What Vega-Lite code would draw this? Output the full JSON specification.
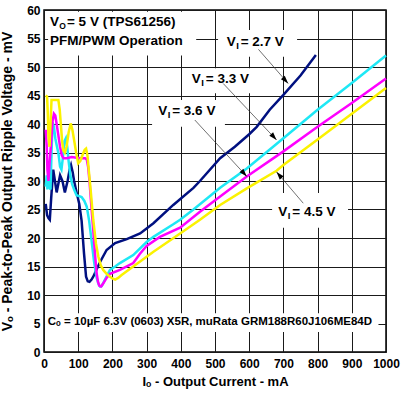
{
  "$schema": "https://vega.github.io/schema/vega-lite/v6.json",
  "width": 342,
  "height": 342,
  "autosize": "none",
  "padding": {"left": 44, "top": 10, "right": 19, "bottom": 46},
  "background": "white",
  "config": {
    "view": {"stroke": "black", "strokeWidth": 1.5},
    "font": "Liberation Sans",
    "axis": {
      "grid": true, "gridColor": "#1a1a1a", "gridWidth": 1, "gridOpacity": 1,
      "ticks": false, "domain": false,
      "labelFont": "Liberation Sans", "labelFontWeight": "bold", "labelFontSize": 12, "labelColor": "black",
      "labelFlush": false, "labelOverlap": false,
      "titleFont": "Liberation Sans", "titleFontWeight": "bold", "titleColor": "black"
    }
  },
  "datasets": {
    "curves": [
      {"s":"2.7","I":5,"V":26},{"s":"2.7","I":9,"V":24},{"s":"2.7","I":13,"V":23.5},{"s":"2.7","I":17,"V":23.2},{"s":"2.7","I":21,"V":27},{"s":"2.7","I":27,"V":32},{"s":"2.7","I":32,"V":30},{"s":"2.7","I":37,"V":28},{"s":"2.7","I":42,"V":29.5},{"s":"2.7","I":47,"V":31},{"s":"2.7","I":54,"V":30},{"s":"2.7","I":61,"V":28},{"s":"2.7","I":69,"V":30},{"s":"2.7","I":75,"V":32},{"s":"2.7","I":79,"V":32.8},{"s":"2.7","I":84,"V":31.5},{"s":"2.7","I":88,"V":30},{"s":"2.7","I":96,"V":27.8},{"s":"2.7","I":103,"V":26},{"s":"2.7","I":110,"V":23},{"s":"2.7","I":117,"V":17.3},{"s":"2.7","I":123,"V":13.2},{"s":"2.7","I":128,"V":12.4},{"s":"2.7","I":133,"V":12.3},{"s":"2.7","I":139,"V":12.7},{"s":"2.7","I":144,"V":13.2},{"s":"2.7","I":154,"V":14.5},{"s":"2.7","I":164,"V":15.8},{"s":"2.7","I":183,"V":17.9},{"s":"2.7","I":208,"V":19.1},{"s":"2.7","I":242,"V":19.8},{"s":"2.7","I":281,"V":20.8},{"s":"2.7","I":320,"V":22.6},{"s":"2.7","I":378,"V":25.8},{"s":"2.7","I":437,"V":28.8},{"s":"2.7","I":456,"V":30},{"s":"2.7","I":515,"V":34},{"s":"2.7","I":558,"V":36},{"s":"2.7","I":600,"V":38.2},{"s":"2.7","I":622,"V":39.5},{"s":"2.7","I":660,"V":42.5},{"s":"2.7","I":700,"V":45.1},{"s":"2.7","I":750,"V":48.5},{"s":"2.7","I":795,"V":52.1},
      {"s":"3.3","I":5,"V":29},{"s":"3.3","I":8,"V":31},{"s":"3.3","I":10,"V":28.5},{"s":"3.3","I":13,"V":32},{"s":"3.3","I":16,"V":29},{"s":"3.3","I":19,"V":28.5},{"s":"3.3","I":22,"V":35},{"s":"3.3","I":25,"V":40.3},{"s":"3.3","I":29,"V":39.5},{"s":"3.3","I":33,"V":37.5},{"s":"3.3","I":38,"V":36},{"s":"3.3","I":42,"V":34.9},{"s":"3.3","I":47,"V":32.5},{"s":"3.3","I":51,"V":32},{"s":"3.3","I":55,"V":34},{"s":"3.3","I":60,"V":37},{"s":"3.3","I":64,"V":37.5},{"s":"3.3","I":68,"V":36},{"s":"3.3","I":72,"V":33.5},{"s":"3.3","I":77,"V":31},{"s":"3.3","I":82,"V":29.5},{"s":"3.3","I":88,"V":28.5},{"s":"3.3","I":95,"V":27.5},{"s":"3.3","I":110,"V":27.2},{"s":"3.3","I":118,"V":26.5},{"s":"3.3","I":125,"V":25.5},{"s":"3.3","I":132,"V":23},{"s":"3.3","I":139,"V":19.6},{"s":"3.3","I":146,"V":16},{"s":"3.3","I":154,"V":13},{"s":"3.3","I":160,"V":11.8},{"s":"3.3","I":164,"V":11.5},{"s":"3.3","I":169,"V":11.6},{"s":"3.3","I":175,"V":12.3},{"s":"3.3","I":185,"V":13.5},{"s":"3.3","I":193,"V":14.4},{"s":"3.3","I":208,"V":15},{"s":"3.3","I":222,"V":15.6},{"s":"3.3","I":261,"V":17},{"s":"3.3","I":300,"V":19.3},{"s":"3.3","I":320,"V":20.2},{"s":"3.3","I":378,"V":22.4},{"s":"3.3","I":398,"V":23.2},{"s":"3.3","I":437,"V":25},{"s":"3.3","I":515,"V":28.8},{"s":"3.3","I":593,"V":32.2},{"s":"3.3","I":700,"V":37.5},{"s":"3.3","I":800,"V":42.5},{"s":"3.3","I":900,"V":47.2},{"s":"3.3","I":1000,"V":52},
      {"s":"3.6","I":5,"V":39},{"s":"3.6","I":8,"V":36},{"s":"3.6","I":10,"V":32},{"s":"3.6","I":13,"V":30},{"s":"3.6","I":16,"V":33},{"s":"3.6","I":20,"V":36},{"s":"3.6","I":25,"V":40.5},{"s":"3.6","I":29,"V":41.8},{"s":"3.6","I":33,"V":41.5},{"s":"3.6","I":37,"V":40},{"s":"3.6","I":42,"V":38},{"s":"3.6","I":47,"V":36},{"s":"3.6","I":52,"V":34.5},{"s":"3.6","I":57,"V":34},{"s":"3.6","I":66,"V":34},{"s":"3.6","I":81,"V":34.2},{"s":"3.6","I":105,"V":34},{"s":"3.6","I":120,"V":34},{"s":"3.6","I":125,"V":33.8},{"s":"3.6","I":129,"V":32.5},{"s":"3.6","I":133,"V":30},{"s":"3.6","I":138,"V":26},{"s":"3.6","I":144,"V":21.4},{"s":"3.6","I":150,"V":16.5},{"s":"3.6","I":154,"V":13.8},{"s":"3.6","I":158,"V":12.3},{"s":"3.6","I":162,"V":11.6},{"s":"3.6","I":167,"V":11.5},{"s":"3.6","I":173,"V":12},{"s":"3.6","I":183,"V":13},{"s":"3.6","I":193,"V":13.7},{"s":"3.6","I":222,"V":14.4},{"s":"3.6","I":261,"V":15.6},{"s":"3.6","I":280,"V":17.2},{"s":"3.6","I":300,"V":18.6},{"s":"3.6","I":339,"V":20.2},{"s":"3.6","I":398,"V":21.8},{"s":"3.6","I":456,"V":24.6},{"s":"3.6","I":515,"V":27.3},{"s":"3.6","I":593,"V":30.8},{"s":"3.6","I":700,"V":35.2},{"s":"3.6","I":800,"V":39.5},{"s":"3.6","I":900,"V":43.7},{"s":"3.6","I":1000,"V":48},
      {"s":"4.5","I":5,"V":45},{"s":"4.5","I":9,"V":44.8},{"s":"4.5","I":11,"V":42},{"s":"4.5","I":13,"V":38},{"s":"4.5","I":16,"V":36},{"s":"4.5","I":19,"V":40},{"s":"4.5","I":22,"V":44.2},{"s":"4.5","I":30,"V":44.2},{"s":"4.5","I":42,"V":44.2},{"s":"4.5","I":46,"V":42.5},{"s":"4.5","I":49,"V":40.1},{"s":"4.5","I":53,"V":37},{"s":"4.5","I":56.5,"V":35.4},{"s":"4.5","I":61,"V":35},{"s":"4.5","I":66,"V":36},{"s":"4.5","I":72,"V":38.5},{"s":"4.5","I":78,"V":40.1},{"s":"4.5","I":83,"V":39},{"s":"4.5","I":88,"V":37.2},{"s":"4.5","I":94,"V":35},{"s":"4.5","I":100,"V":33.1},{"s":"4.5","I":106,"V":33.5},{"s":"4.5","I":113,"V":34.6},{"s":"4.5","I":119,"V":35.5},{"s":"4.5","I":123,"V":35.7},{"s":"4.5","I":127,"V":34.5},{"s":"4.5","I":130,"V":32.5},{"s":"4.5","I":137,"V":28},{"s":"4.5","I":144,"V":23.2},{"s":"4.5","I":152,"V":19},{"s":"4.5","I":159,"V":16.7},{"s":"4.5","I":166,"V":15.2},{"s":"4.5","I":173,"V":14.4},{"s":"4.5","I":183,"V":13.7},{"s":"4.5","I":193,"V":13.2},{"s":"4.5","I":200,"V":12.9},{"s":"4.5","I":208,"V":12.7},{"s":"4.5","I":217,"V":13},{"s":"4.5","I":227,"V":13.5},{"s":"4.5","I":261,"V":15},{"s":"4.5","I":320,"V":17.6},{"s":"4.5","I":398,"V":20.8},{"s":"4.5","I":456,"V":23.2},{"s":"4.5","I":515,"V":25.8},{"s":"4.5","I":593,"V":28.7},{"s":"4.5","I":680,"V":31.8},{"s":"4.5","I":700,"V":32.8},{"s":"4.5","I":800,"V":37.3},{"s":"4.5","I":900,"V":41.8},{"s":"4.5","I":1000,"V":46.3}
    ],
    "boxes": [
      {"I":12,"I2":445,"V":52,"V2":59.7},
      {"I":509,"I2":740,"V":51.8,"V2":56.5},
      {"I":421,"I2":617,"V":45.4,"V2":49.8},
      {"I":316,"I2":529,"V":39.5,"V2":44.2},
      {"I":667,"I2":889,"V":21.8,"V2":27.9},
      {"I":3,"I2":978,"V":3.5,"V2":6.8}
    ],
    "arrows": [
      {"s":"2.7","I":627,"V":53.1,"I2":714,"V2":47.1},
      {"s":"3.3","I":524,"V":47.1,"I2":680,"V2":37.2},
      {"s":"3.6","I":441,"V":40.7,"I2":593,"V2":30.8},
      {"s":"4.5","I":758,"V":26.1,"I2":680,"V2":31.6}
    ],
    "tips": [
      {"s":"2.7","I":714,"V":47.1},
      {"s":"3.3","I":680,"V":37.2},
      {"s":"3.6","I":593,"V":30.8},
      {"s":"4.5","I":680,"V":31.6}
    ],
    "vlabels": [
      {"I":534,"V":54.3,"main":"V","sub":"I","rest":"= 2.7 V"},
      {"I":432,"V":47.9,"main":"V","sub":"I","rest":"= 3.3 V"},
      {"I":334,"V":42.2,"main":"V","sub":"I","rest":"= 3.6 V"},
      {"I":685,"V":24.6,"main":"V","sub":"I","rest":"= 4.5 V"}
    ],
    "head": [
      {"I":17.5,"V":57.9,"main":"V","sub":"O","rest":"= 5 V (TPS61256)"}
    ],
    "notes": [
      {"I":17.5,"V":54.6,"t":"PFM/PWM Operation"}
    ],
    "cap": [
      {"I":11,"V":5.2,"t":"Cₒ = 10µF 6.3V (0603) X5R, muRata GRM188R60J106ME84D"}
    ]
  },
  "encoding": {
    "x": {
      "field": "I", "type": "quantitative",
      "scale": {"domain": [0, 1000], "nice": false, "zero": false},
      "axis": {
        "values": [0,100,200,300,400,500,600,700,800,900,1000],
        "format": "d",
        "title": "Iₒ - Output Current - mA",
        "titleFontSize": 13, "labelPadding": 6,
        "titleY": 33, "titleBaseline": "alphabetic"
      }
    },
    "y": {
      "field": "V", "type": "quantitative",
      "scale": {"domain": [0, 60], "nice": false, "zero": false},
      "axis": {
        "values": [0,5,10,15,20,25,30,35,40,45,50,55,60],
        "format": "d",
        "title": "Vₒ - Peak-to-Peak Output Ripple Voltage - mV",
        "titleFontSize": 14, "labelPadding": 4,
        "titleX": -30, "titleY": 171, "titleAngle": -90, "titleBaseline": "bottom", "titleAlign": "center"
      }
    }
  },
  "layer": [
    {
      "data": {"name": "boxes"},
      "mark": {"type": "rect", "fill": "white", "strokeWidth": 0},
      "encoding": {"x2": {"field": "I2"}, "y2": {"field": "V2"}}
    },
    {
      "data": {"name": "curves"},
      "mark": {"type": "line", "strokeWidth": 2.5},
      "encoding": {
        "color": {"field": "s", "type": "nominal",
          "scale": {"domain": ["2.7","3.3","3.6","4.5"], "range": ["#001080","#1ee8f5","#ff00ff","#fbf200"]},
          "legend": null}
      }
    },
    {
      "data": {"name": "arrows"},
      "mark": {"type": "rule", "color": "#333333", "strokeWidth": 0.7},
      "encoding": {"x2": {"field": "I2"}, "y2": {"field": "V2"}}
    },
    {
      "data": {"name": "tips"},
      "transform": [{"filter": "datum.s != '4.5'"}],
      "mark": {"type": "point", "shape": "M0,0L-0.32,1L0.32,1Z", "filled": true, "color": "black", "opacity": 1, "size": 256, "angle": 138, "strokeWidth": 0}
    },
    {
      "data": {"name": "tips"},
      "transform": [{"filter": "datum.s == '4.5'"}],
      "mark": {"type": "point", "shape": "M0,0L-0.32,1L0.32,1Z", "filled": true, "color": "black", "opacity": 1, "size": 256, "angle": 320, "strokeWidth": 0}
    },
    {
      "data": {"name": "vlabels"},
      "mark": {"type": "text", "align": "left", "baseline": "middle", "fontSize": 13.5, "fontWeight": "bold", "color": "black"},
      "encoding": {"text": {"field": "main"}}
    },
    {
      "data": {"name": "vlabels"},
      "mark": {"type": "text", "align": "left", "baseline": "middle", "fontSize": 9.5, "fontWeight": "bold", "color": "black", "dx": 9.5, "dy": 4},
      "encoding": {"text": {"field": "sub"}}
    },
    {
      "data": {"name": "vlabels"},
      "mark": {"type": "text", "align": "left", "baseline": "middle", "fontSize": 13.5, "fontWeight": "bold", "color": "black", "dx": 14},
      "encoding": {"text": {"field": "rest"}}
    },
    {
      "data": {"name": "head"},
      "mark": {"type": "text", "align": "left", "baseline": "middle", "fontSize": 13.5, "fontWeight": "bold", "color": "black"},
      "encoding": {"text": {"field": "main"}}
    },
    {
      "data": {"name": "head"},
      "mark": {"type": "text", "align": "left", "baseline": "middle", "fontSize": 8.5, "fontWeight": "bold", "color": "black", "dx": 9.2, "dy": 4},
      "encoding": {"text": {"field": "sub"}}
    },
    {
      "data": {"name": "head"},
      "mark": {"type": "text", "align": "left", "baseline": "middle", "fontSize": 13.5, "fontWeight": "bold", "color": "black", "dx": 17},
      "encoding": {"text": {"field": "rest"}}
    },
    {
      "data": {"name": "notes"},
      "mark": {"type": "text", "align": "left", "baseline": "middle", "fontSize": 13.5, "fontWeight": "bold", "color": "black"},
      "encoding": {"text": {"field": "t"}}
    },
    {
      "data": {"name": "cap"},
      "mark": {"type": "text", "align": "left", "baseline": "middle", "fontSize": 11.5, "fontWeight": "bold", "color": "black"},
      "encoding": {"text": {"field": "t"}}
    }
  ]
}
